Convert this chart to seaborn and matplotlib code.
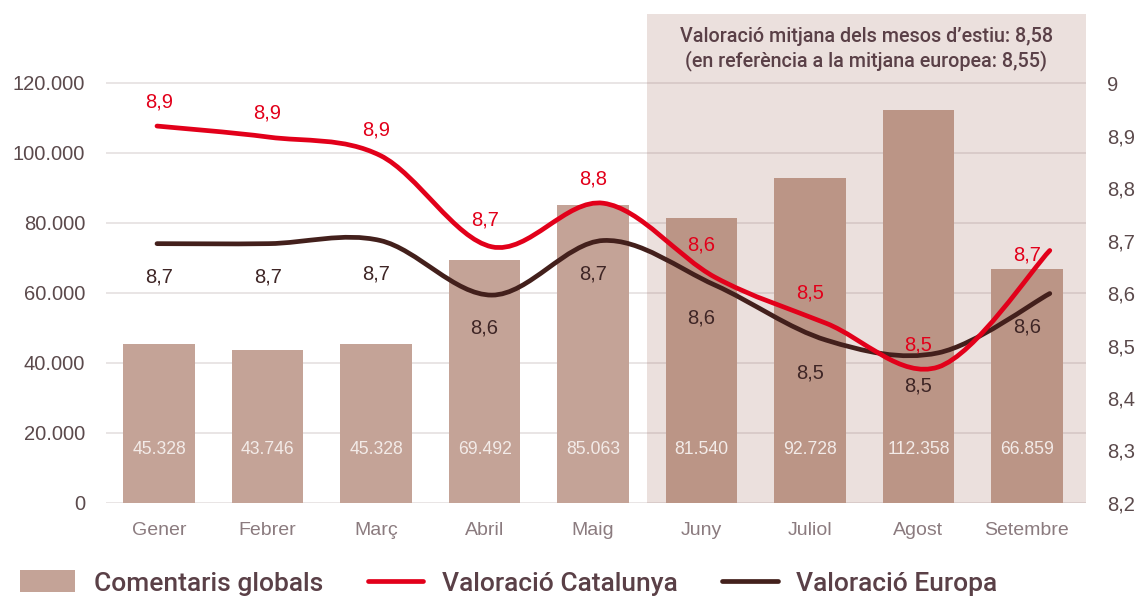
import numpy as np
import matplotlib
matplotlib.use("Agg")
import matplotlib.pyplot as plt
from matplotlib import transforms
from matplotlib.path import Path
from matplotlib.patches import PathPatch, Patch
from matplotlib.lines import Line2D
import seaborn as sns

# ---- data -------------------------------------------------------------
months = ["Gener", "Febrer", "Març", "Abril", "Maig", "Juny", "Juliol", "Agost", "Setembre"]
comments = [45328, 43746, 45328, 69492, 85063, 81540, 92728, 112358, 66859]
rating_cat = [8.918, 8.897, 8.862, 8.688, 8.771, 8.630, 8.542, 8.459, 8.681]
rating_eur = [8.694, 8.694, 8.700, 8.596, 8.700, 8.615, 8.510, 8.486, 8.599]
summer_months = ["Juny", "Juliol", "Agost", "Setembre"]
left_ticks = [0, 20000, 40000, 60000, 80000, 100000, 120000]
right_ticks = [8.2, 8.3, 8.4, 8.5, 8.6, 8.7, 8.8, 8.9, 9.0]
series_names = ["Comentaris globals", "Valoració Catalunya", "Valoració Europa"]

# ---- style --------------------------------------------------------------
sns.set_style("white")
plt.rcParams["font.family"] = ["Liberation Sans", "DejaVu Sans"]
MED = dict(family=["Roboto", "DejaVu Sans"], weight="medium")

BAR = "#c4a397"
BAR_SUMMER = "#bb9586"
SHADE = "#ebe0dd"
RED = "#e2001a"
DARK = "#43201c"
TICK = "#5b4a4c"
XTICK = "#8b7b7f"
TEXT = "#5a4047"


def num_es(v):
    return f"{v:,}".replace(",", ".")


def dec_es(v, nd=1):
    return f"{v:.{nd}f}".replace(".", ",")


def smooth_path(xs, ys):
    """Cubic Bezier path through the points (Catmull-Rom style tangents)."""
    pts = np.column_stack([xs, ys]).astype(float)
    n = len(pts)
    verts, codes = [pts[0]], [Path.MOVETO]
    for i in range(n - 1):
        p0 = pts[i - 1] if i > 0 else pts[i]
        p1, p2 = pts[i], pts[i + 1]
        p3 = pts[i + 2] if i + 2 < n else pts[i + 1]
        verts += [p1 + (p2 - p0) / 6.0, p2 - (p3 - p1) / 6.0, p2]
        codes += [Path.CURVE4] * 3
    return Path(verts, codes)


W, H = 1137, 596
fig = plt.figure(figsize=(W / 100, H / 100), dpi=100)
rect = [106 / W, 93 / H, 979.5 / W, 489 / H]
ax = fig.add_axes(rect)

# ---- bars -------------------------------------------------------------
bar_colors = [BAR_SUMMER if m in summer_months else BAR for m in months]
sns.barplot(x=months, y=comments, hue=months, palette=bar_colors, width=0.66,
            saturation=1, legend=False, ax=ax, zorder=2, linewidth=0,
            edgecolor="none")

ax.set_xlim(-0.49, 8.54)
top_frac = 489 / 420  # plot area reaches above the last tick
ax.set_ylim(0, left_ticks[-1] * top_frac)
ax.set_yticks(left_ticks)
ax.set_yticklabels([num_es(t) for t in left_ticks])
ax.set_xlabel("")
ax.set_ylabel("")
ax.tick_params(axis="y", length=0, pad=15, labelsize=14.5, labelcolor=TICK)
ax.tick_params(axis="x", length=0, pad=14, labelsize=14, labelcolor=XTICK)
for s in ax.spines.values():
    s.set_visible(False)
ax.grid(axis="y", color="#8a7070", alpha=0.2, lw=1.3, zorder=0.5)
ax.set_axisbelow(True)

# summer shading
first_summer = months.index(summer_months[0])
ax.axvspan(first_summer - 0.5, ax.get_xlim()[1], color=SHADE, lw=0, zorder=0.2)

# value labels inside bars
lab_tr = transforms.blended_transform_factory(ax.transData, ax.transAxes)
for i, v in enumerate(comments):
    ax.text(i, 54 / 489, num_es(v), transform=lab_tr, ha="center", va="center",
            fontsize=12.7, color="#f3ebe8", zorder=3)

# summer note
summer_idx = [months.index(m) for m in summer_months]
cat_summer = np.mean([rating_cat[i] for i in summer_idx])
eur_summer = np.mean([rating_eur[i] for i in summer_idx])
note = (f"Valoració mitjana dels mesos d’estiu: {dec_es(cat_summer, 2)}\n"
        f"(en referència a la mitjana europea: {dec_es(eur_summer, 2)})")
ax.text((first_summer - 0.5 + ax.get_xlim()[1]) / 2, (503 - 49) / 489, note,
        transform=lab_tr, ha="center", va="center", multialignment="center",
        fontsize=14.2, color=TEXT, linespacing=1.25, zorder=3, **MED)

# ---- rating lines (right axis) --------------------------------------------
ax2 = fig.add_axes(rect)
ax2.patch.set_visible(False)
ax2.set_xlim(-0.457, 8.32)
ax2.set_ylim(right_ticks[0], right_ticks[0] + (right_ticks[-1] - right_ticks[0]) * top_frac)
ax2.set_yticks(right_ticks)
ax2.set_yticklabels([dec_es(t) if t < 9 else "9" for t in right_ticks])
ax2.yaxis.tick_right()
ax2.tick_params(axis="y", length=0, pad=15.5, labelsize=14.5, labelcolor=TICK)
ax2.set_xticks([])
for s in ax2.spines.values():
    s.set_visible(False)

xs = np.arange(len(months))
curves = {}
for name, vals, col in [("eur", rating_eur, DARK), ("cat", rating_cat, RED)]:
    patch = PathPatch(smooth_path(xs, vals), fill=False, edgecolor=col,
                      lw=3.4, capstyle="round", joinstyle="round", zorder=4)
    ax2.add_patch(patch)
    curves[name] = patch

# Catalunya labels sit a fixed distance above the drawn curve at each month
poly = curves["cat"].get_path().transformed(ax2.transData).to_polygons(closed_only=False)[0]
order = np.argsort(poly[:, 0])
for i, v in enumerate(rating_cat):
    px = ax.transData.transform((i, 0))[0]
    py = np.interp(px, poly[order, 0], poly[order, 1]) + 24
    ax2.text(px, py, dec_es(v), transform=None, ha="center", va="center",
             fontsize=14.5, color=RED, zorder=5)

# Europa labels sit below each month's point
base = transforms.blended_transform_factory(ax.transData, ax2.transData)
tr = base + transforms.ScaledTranslation(0, -23.8 / 72, fig.dpi_scale_trans)
for i, v in enumerate(rating_eur):
    ax2.text(i, v, dec_es(v), transform=tr, ha="center", va="center",
             fontsize=14.5, color="#3f2626", zorder=5)

# ---- legend -------------------------------------------------------------
handles = [Patch(facecolor=BAR, edgecolor="none"),
           Line2D([], [], color=RED, lw=3.4, solid_capstyle="round"),
           Line2D([], [], color=DARK, lw=3.4, solid_capstyle="round")]
leg = fig.legend(handles, series_names, loc="center left",
                 bbox_to_anchor=(20 / W, 1 - 583 / H), ncol=3, frameon=False,
                 handlelength=2.1, handleheight=0.9, handletextpad=0.7,
                 columnspacing=1.7, borderaxespad=0, borderpad=0,
                 prop=dict(size=19, **MED), labelcolor=TEXT)

fig.savefig("out.png", dpi=100)
